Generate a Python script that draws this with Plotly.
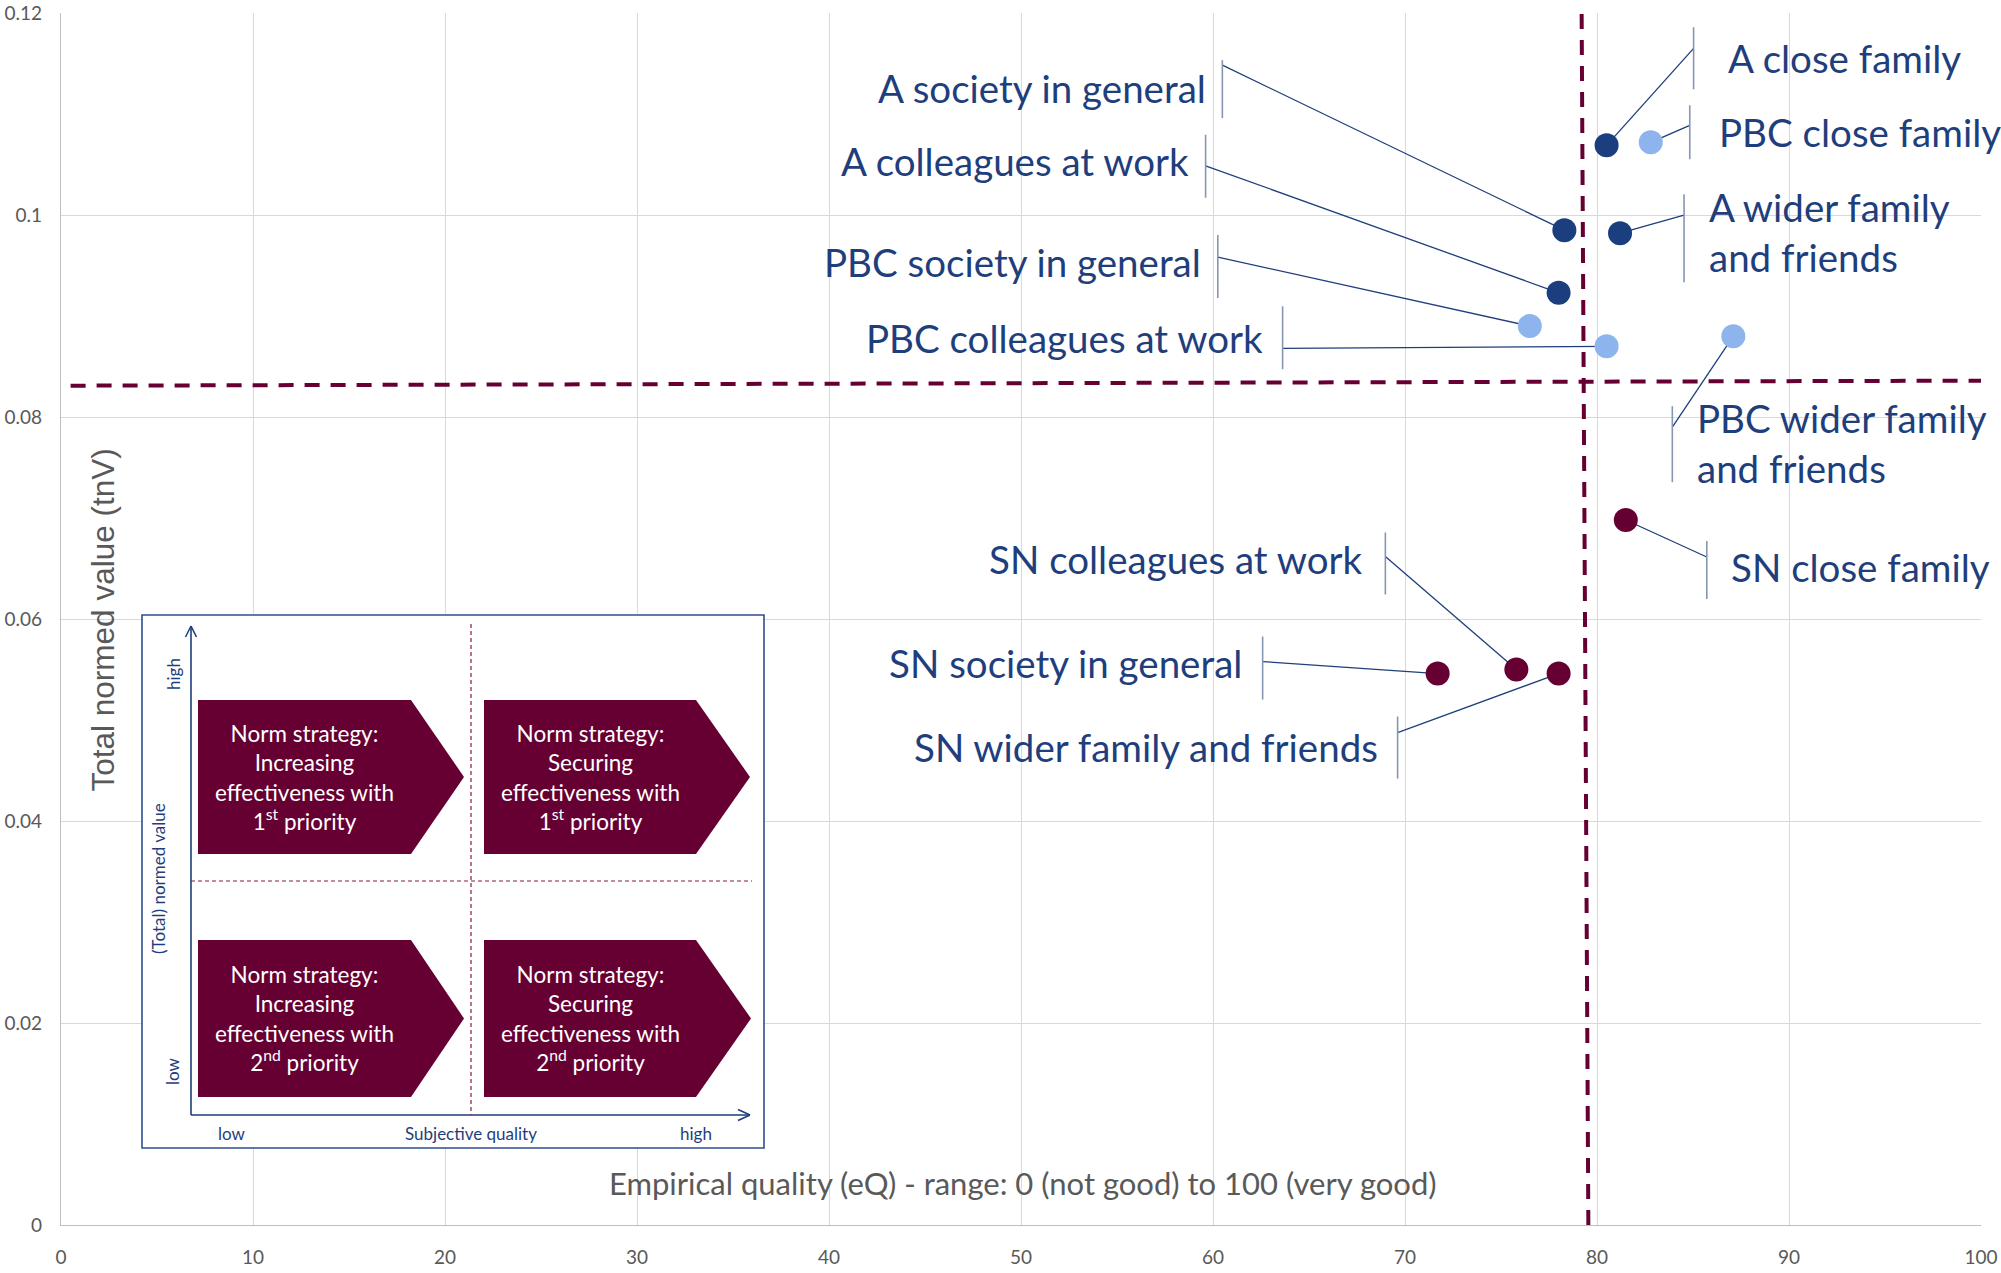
import plotly.graph_objects as go

# ---------------- data ----------------
x_ticks = [0, 10, 20, 30, 40, 50, 60, 70, 80, 90, 100]
x_tick_labels = ["0", "10", "20", "30", "40", "50", "60", "70", "80", "90", "100"]
y_ticks = [0, 0.02, 0.04, 0.06, 0.08, 0.1, 0.12]
y_tick_labels = ["0", "0.02", "0.04", "0.06", "0.08", "0.1", "0.12"]

a_names = ["A close family", "A society in general", "A wider family<br>and friends", "A colleagues at work"]
a_x = [80.5, 78.3, 81.2, 78.0]
a_y = [0.1069, 0.0985, 0.0982, 0.0923]

pbc_names = ["PBC close family", "PBC society in general", "PBC colleagues at work", "PBC wider family<br>and friends"]
pbc_x = [82.8, 76.5, 80.5, 87.1]
pbc_y = [0.1072, 0.0890, 0.0870, 0.0880]

sn_names = ["SN close family", "SN society in general", "SN colleagues at work", "SN wider family and friends"]
sn_x = [81.5, 71.7, 75.8, 78.0]
sn_y = [0.0698, 0.0546, 0.0550, 0.0546]

# threshold (reference) lines
ref_h_x = [0.5, 100]
ref_h_y = [0.0831, 0.0836]
ref_v_x = [79.55, 79.2]
ref_v_y = [0, 0.12]

inset_quadrants = [
    "Norm strategy:<br>Increasing<br>effectiveness with<br>1<sup>st</sup> priority",
    "Norm strategy:<br>Securing<br>effectiveness with<br>1<sup>st</sup> priority",
    "Norm strategy:<br>Increasing<br>effectiveness with<br>2<sup>nd</sup> priority",
    "Norm strategy:<br>Securing<br>effectiveness with<br>2<sup>nd</sup> priority",
]

# ---------------- layout / style ----------------
W, H = 2001, 1273
ML, MR, MT, MB = 61, 20, 13, 48
PW, PH = W - ML - MR, H - MT - MB

C_A = "#1B3E7E"
C_PBC = "#8DB4EC"
C_SN = "#660033"
C_TEXT = "#1F3E7C"
C_LEAD = "#1F3E7A"
C_BAR = "#8596B2"
C_GRAY = "#595959"
FONT = "Lato"
LABEL_SIZE = 38.5

# label callout offsets in pixels relative to each marker:
# (anchor side, text dx, text dy, bar dx, bar dy top, bar dy bottom, join dy)
a_call = [
    ("left", 119, 87, 87, 118, 56, 97),
    ("right", -356, 142, -342, 170, 112, 165),
    ("left", 87, 1, 64, 39, -49, 18),
    ("right", -368, 132, -353, 158, 95, 127),
]
pbc_call = [
    ("left", 66, 10, 39, 37, -17, 17),
    ("right", -327, 64, -312, 91, 28, 69),
    ("right", -342, 8, -324, 40, -23, -2),
    ("left", -38, -107, -61, -70, -146, -91),
]
sn_call = [
    ("left", 103, -47, 81, -21, -79, -37),
    ("right", -194, 11, -175, 37, -26, 12),
    ("right", -151, 111, -131, 137, 75, 113),
    ("right", -179, -73, -161, -43, -105, -59),
]


def P(px, py):
    """canvas pixel -> paper fraction"""
    return (px - ML) / PW, (H - MB - py) / PH


fig = go.Figure()

# reference lines
for xs, ys in [(ref_h_x, ref_h_y), (ref_v_x, ref_v_y)]:
    fig.add_trace(go.Scatter(x=xs, y=ys, mode="lines",
                             line=dict(color=C_SN, width=4, dash="15px,11px"),
                             hoverinfo="skip"))

for xs, ys, col, names in [(a_x, a_y, C_A, a_names), (pbc_x, pbc_y, C_PBC, pbc_names), (sn_x, sn_y, C_SN, sn_names)]:
    fig.add_trace(go.Scatter(x=xs, y=ys, mode="markers", hovertext=names, hoverinfo="text",
                             marker=dict(color=col, size=24, line=dict(width=0))))

shapes = []
annotations = []

for xs, ys, names, calls in [(a_x, a_y, a_names, a_call), (pbc_x, pbc_y, pbc_names, pbc_call), (sn_x, sn_y, sn_names, sn_call)]:
    for x, y, name, (side, tdx, tdy, bdx, b0, b1, jdy) in zip(xs, ys, names, calls):
        shapes.append(dict(type="line", xref="x", yref="y", xsizemode="pixel", ysizemode="pixel",
                           xanchor=x, yanchor=y, x0=0, y0=0, x1=bdx, y1=jdy,
                           line=dict(color=C_LEAD, width=1.3), layer="between"))
        shapes.append(dict(type="line", xref="x", yref="y", xsizemode="pixel", ysizemode="pixel",
                           xanchor=x, yanchor=y, x0=bdx, y0=b0, x1=bdx, y1=b1,
                           line=dict(color=C_BAR, width=1.6), layer="between"))
        annotations.append(dict(x=x, y=y, xref="x", yref="y", text=name, showarrow=False,
                                xanchor=side, yanchor="middle", xshift=tdx, yshift=tdy,
                                align=side, font=dict(family=FONT, size=LABEL_SIZE, color=C_TEXT)))

# axis titles (drawn inside plot area as in reference)
annotations.append(dict(x=0.501, y=0.035, xref="paper", yref="paper", showarrow=False,
                        text="Empirical quality (eQ) - range: 0 (not good) to 100 (very good)",
                        font=dict(family=FONT, size=31, color=C_GRAY), xanchor="center", yanchor="middle"))
annotations.append(dict(x=0.022, y=0.499, xref="paper", yref="paper", showarrow=False,
                        text="Total normed value (tnV)", textangle=-90,
                        font=dict(family="Liberation Sans", size=31.5, color=C_GRAY),
                        xanchor="center", yanchor="middle"))

# ---------------- inset schematic ----------------
def rect(x0, y0, x1, y1, **kw):
    a, b = P(x0, y0)
    c, d = P(x1, y1)
    return dict(type="rect", xref="paper", yref="paper", x0=a, y0=b, x1=c, y1=d, **kw)


def line(x0, y0, x1, y1, **kw):
    a, b = P(x0, y0)
    c, d = P(x1, y1)
    return dict(type="line", xref="paper", yref="paper", x0=a, y0=b, x1=c, y1=d, **kw)


shapes.append(rect(142, 615, 764, 1148, fillcolor="white", line=dict(color="#2F4F8F", width=1.6), layer="above"))
ax_line = dict(color=C_TEXT, width=1.6)
shapes.append(line(191, 1115, 191, 626, line=ax_line))
shapes.append(line(191, 626, 185.5, 637, line=ax_line))
shapes.append(line(191, 626, 196.5, 637, line=ax_line))
shapes.append(line(191, 1115, 750, 1115, line=ax_line))
shapes.append(line(750, 1115, 738, 1109.5, line=ax_line))
shapes.append(line(750, 1115, 738, 1120.5, line=ax_line))
dash_in = dict(color="#8A1A45", width=1.2, dash="4px,3px")
shapes.append(line(471, 624, 471, 1115, line=dash_in))
shapes.append(line(191, 881, 752, 881, line=dash_in))

chevrons = [(198, 411, 464, 700, 854), (484, 696, 750, 700, 854),
            (198, 411, 464, 940, 1097), (484, 696, 751, 940, 1097)]
for (x0, x1, xp, y0, y1), txt in zip(chevrons, inset_quadrants):
    ym = (y0 + y1) / 2
    pts = [P(x0, y0), P(x1, y0), P(xp, ym), P(x1, y1), P(x0, y1)]
    path = "M " + " L ".join(f"{a:.5f},{b:.5f}" for a, b in pts) + " Z"
    shapes.append(dict(type="path", xref="paper", yref="paper", path=path,
                       fillcolor="#660033", line=dict(width=0)))
    cx, cy = P((x0 + x1) / 2, ym)
    annotations.append(dict(x=cx, y=cy, xref="paper", yref="paper", text=txt, showarrow=False,
                            xanchor="center", yanchor="middle", align="center",
                            font=dict(family=FONT, size=22.5, color="white")))

small = dict(family=FONT, size=17, color=C_TEXT)
for txt, px, py, ang in [("low", 232, 1133, 0), ("Subjective quality", 471, 1133, 0), ("high", 696, 1133, 0),
                         ("high", 173, 674, -90), ("low", 172, 1071, -90), ("(Total) normed value", 158, 879, -90)]:
    a, b = P(px, py)
    annotations.append(dict(x=a, y=b, xref="paper", yref="paper", text=txt, showarrow=False,
                            textangle=ang, xanchor="center", yanchor="middle", font=small))

fig.update_layout(
    width=W, height=H,
    margin=dict(l=ML, r=MR, t=MT, b=MB, autoexpand=False),
    paper_bgcolor="white", plot_bgcolor="white",
    showlegend=False,
    shapes=shapes, annotations=annotations,
    xaxis=dict(range=[0, 100], tickvals=x_ticks, ticktext=x_tick_labels, automargin=False,
               showgrid=True, gridcolor="#D9D9D9", gridwidth=1.3,
               zeroline=False, showline=True, linecolor="#BFBFBF", linewidth=1.3,
               ticks="", ticklabelstandoff=15,
               tickfont=dict(family=FONT, size=19, color=C_GRAY)),
    yaxis=dict(range=[0, 0.12], tickvals=y_ticks, ticktext=y_tick_labels, automargin=False,
               showgrid=True, gridcolor="#D9D9D9", gridwidth=1.3,
               zeroline=False, showline=True, linecolor="#BFBFBF", linewidth=1.3,
               ticks="", ticklabelstandoff=14,
               tickfont=dict(family=FONT, size=19, color=C_GRAY)),
)

fig.write_html("out.html", config={"displayModeBar": False},
               post_script="document.body.style.margin='0';document.body.style.overflow='hidden';")
